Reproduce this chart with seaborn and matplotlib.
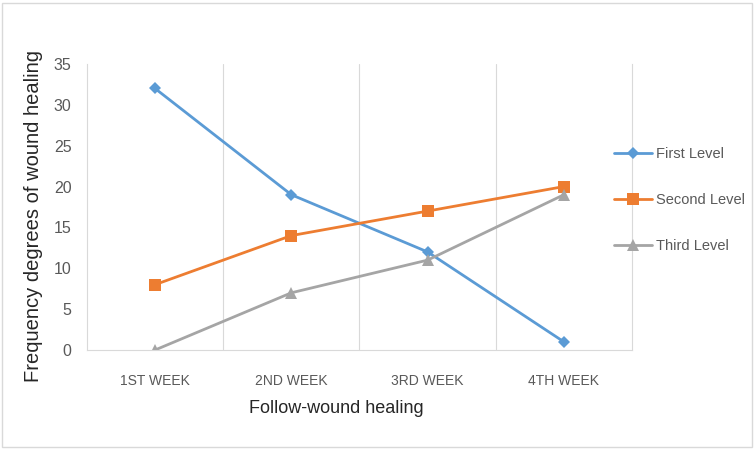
import matplotlib
matplotlib.use("Agg")
import matplotlib.pyplot as plt
import seaborn as sns
import pandas as pd

weeks = ["1ST WEEK", "2ND WEEK", "3RD WEEK", "4TH WEEK"]
first_level = [32, 19, 12, 1]
second_level = [8, 14, 17, 20]
third_level = [0, 7, 11, 19]
series_names = ["First Level", "Second Level", "Third Level"]

df = pd.DataFrame({
    "week": list(range(len(weeks))) * 3,
    "value": first_level + second_level + third_level,
    "level": [n for n in series_names for _ in weeks],
})

sns.set_style("white")
plt.rcParams["font.family"] = ["Liberation Sans", "DejaVu Sans"]

fig = plt.figure(figsize=(7.56, 4.49), dpi=100)
ax = fig.add_axes([0.115, 0.2205, 0.721, 0.637])

palette = {"First Level": "#5B9BD5", "Second Level": "#ED7D31", "Third Level": "#A5A5A5"}
markers = {"First Level": "D", "Second Level": "s", "Third Level": "^"}
sizes = {"First Level": 6, "Second Level": 9, "Third Level": 8}

for name in series_names:
    sub = df[df["level"] == name]
    sns.lineplot(data=sub, x="week", y="value", ax=ax, color=palette[name],
                 marker=markers[name], markersize=sizes[name], linewidth=2,
                 markeredgewidth=0, label=name)

ax.set_xlim(-0.5, len(weeks) - 0.5)
ax.set_ylim(0, 35)
ax.set_yticks(range(0, 36, 5))
ax.set_xticks(range(len(weeks)))
ax.set_xticklabels(weeks)
ax.tick_params(axis="both", length=0, colors="#595959")
ax.tick_params(axis="x", pad=17, labelsize=10)
ax.tick_params(axis="y", pad=11, labelsize=11.5)

# vertical gridlines at category boundaries
for b in [0.5, 1.5, 2.5]:
    ax.axvline(b, color="#D9D9D9", linewidth=0.8, zorder=0)
for side in ["left", "right", "bottom"]:
    ax.spines[side].set_color("#D9D9D9")
    ax.spines[side].set_linewidth(0.8)
ax.spines["top"].set_visible(False)

ax.set_xlabel("Follow-wound healing", fontsize=13, color="#262626")
ax.xaxis.set_label_coords(0.458, -0.175)
ax.set_ylabel("Frequency degrees of wound healing", fontsize=14.5, color="#262626")
ax.yaxis.set_label_coords(-0.08, 0.47)

leg = ax.legend(loc="upper left", bbox_to_anchor=(0.795, 0.702), bbox_transform=fig.transFigure,
                frameon=False, labelspacing=2.2, handlelength=2.6, handletextpad=0.3, fontsize=10.5)
for t in leg.get_texts():
    t.set_color("#595959")

fig.patches.append(plt.Rectangle((0.002, 0.004), 0.993, 0.99, transform=fig.transFigure,
                                 fill=False, edgecolor="#D9D9D9", linewidth=1))

fig.savefig("out.png", dpi=100)
